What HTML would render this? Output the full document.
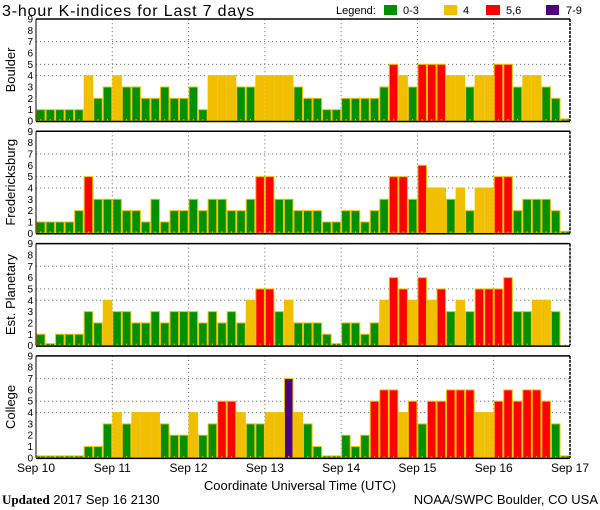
<!DOCTYPE html>
<html><head><meta charset="utf-8"><style>
html,body{margin:0;padding:0;background:#fff;width:600px;height:510px;overflow:hidden}
svg{display:block;font-family:"Liberation Sans",sans-serif}
</style></head><body>
<svg id="s" width="600" height="510" xmlns="http://www.w3.org/2000/svg">
<text x="2" y="16" font-size="16" fill="#000" textLength="252" lengthAdjust="spacing">3-hour K-indices for Last 7 days</text>
<text x="336" y="14" font-size="11" fill="#000">Legend:</text>
<rect x="384" y="5" width="13" height="10" fill="#009000"/><text x="403" y="14" font-size="11">0-3</text>
<rect x="444" y="5" width="13" height="10" fill="#f0c000"/><text x="463" y="14" font-size="11">4</text>
<rect x="486" y="5" width="14" height="10" fill="#ff0000"/><text x="506" y="14" font-size="11">5,6</text>
<rect x="546" y="5" width="13" height="10" fill="#4b0082"/><text x="566" y="14" font-size="11">7-9</text>
<text x="300" y="490" font-size="13" text-anchor="middle">Coordinate Universal Time (UTC)</text>
<text x="2" y="504" font-size="13"><tspan font-family="Liberation Serif,serif" font-weight="bold">Updated</tspan> 2017 Sep 16 2130</text>
<text x="598" y="504" font-size="13" text-anchor="end">NOAA/SWPC Boulder, CO USA</text>
</svg>
<script>
(function(){
var s=document.getElementById('s'),ns='http://www.w3.org/2000/svg';
function el(t,a,txt){var e=document.createElementNS(ns,t);for(var k in a)e.setAttribute(k,a[k]);if(txt!=null)e.textContent=txt;s.appendChild(e);return e;}
var names=['Boulder','Fredericksburg','Est. Planetary','College'];
var data=[
[1,1,1,1,1,4,2,3, 4,3,3,2,2,3,2,2, 3,1,4,4,4,3,3,4, 4,4,4,3,2,2,1,1, 2,2,2,2,3,5,4,3, 5,5,5,4,4,3,4,4, 5,5,3,4,4,3,2,0],
[1,1,1,1,2,5,3,3, 3,2,2,1,3,1,2,2, 3,2,3,3,2,2,3,5, 5,3,3,2,2,2,1,1, 2,2,1,2,3,5,5,3, 6,4,4,3,4,2,4,4, 5,5,2,3,3,3,2,0],
[1,0,1,1,1,3,2,4, 3,3,2,2,3,2,3,3, 3,2,3,2,3,2,4,5, 5,3,4,2,2,2,1,0, 2,2,1,2,4,6,5,4, 6,4,5,3,4,3,5,5, 5,6,3,3,4,4,3,-1],
[0,0,0,0,0,1,1,3, 4,3,4,4,4,3,2,2, 4,2,3,5,5,4,3,3, 4,4,7,4,3,1,0,0, 2,1,2,5,6,6,4,5, 3,5,5,6,6,6,4,4, 5,6,5,6,6,5,3,0]];
var L=36,R=570,W=R-L,bw=W/56,H=102,u=H/9;
function col(v){return v<=3?'#009000':v==4?'#f0c000':v<=6?'#ff0000':'#4b0082';}
for(var p=0;p<4;p++){
 var ty=19+p*112.3,by=ty+H;
 [4,5,7].forEach(function(k){el('line',{x1:L,x2:R,y1:by-k*u,y2:by-k*u,stroke:'#777','stroke-dasharray':'1.2,2.8'});});
 for(var d=1;d<7;d++){var x=L+d*W/7;el('line',{x1:x,x2:x,y1:ty,y2:by,stroke:'#777','stroke-dasharray':'1.2,2.8'});}
 for(var i=0;i<56;i++){var v=data[p][i],x=L+i*bw;
  if(v>=0){var h=v==0?2:v*u;el('rect',{x:x+0.5,y:by-h,width:bw-1,height:h,fill:col(v),stroke:'#f0c000','stroke-width':1});}
  el('line',{x1:x+bw/2,x2:x+bw/2,y1:by-2,y2:by,stroke:'#f0c000'});}
 el('line',{x1:L,x2:R,y1:ty,y2:ty,stroke:'#000','stroke-width':1.5});
 el('line',{x1:L,x2:L,y1:ty,y2:by,stroke:'#000','stroke-width':1});
 el('line',{x1:R,x2:R,y1:ty,y2:by,stroke:'#000','stroke-width':1.5,'stroke-dasharray':'3,1'});
 el('line',{x1:L,x2:R,y1:by+0.5,y2:by+0.5,stroke:'#000','stroke-width':1.5});
 for(var k=0;k<=9;k++)el('text',{x:33,y:by-k*u+3.5,'font-size':10,'text-anchor':'end'},k);
 el('text',{transform:'translate(15,'+(ty+H/2)+') rotate(-90)','font-size':13,'text-anchor':'middle'},names[p]);
}
var ds=['Sep 10','Sep 11','Sep 12','Sep 13','Sep 14','Sep 15','Sep 16','Sep 17'];
for(var d=0;d<8;d++)el('text',{x:L+d*W/7,y:472,'font-size':12,'text-anchor':'middle'},ds[d]);
})();
</script>
</body></html>
